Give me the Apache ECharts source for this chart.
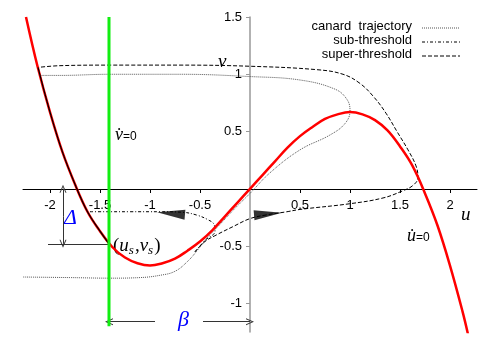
<!DOCTYPE html>
<html>
<head>
<meta charset="utf-8">
<script src="https://cdn.jsdelivr.net/npm/echarts@6/dist/echarts.min.js"></script>
<style>
  html, body { margin: 0; padding: 0; background: #fff; }
  #chart { width: 500px; height: 350px; }
</style>
</head>
<body>
<div id="chart"></div>
<script>
var myChart = echarts.init(document.getElementById('chart'), null, { renderer: 'canvas' });

// tick labels
var xTicks = [-2, -1.5, -1, -0.5, 0.5, 1, 1.5, 2];
var yTicks = [-1, -0.5, 0.5, 1, 1.5];

// u-nullcline (red)
var nullU = [-2.24, -2.125, -2, -1.875, -1.75, -1.625, -1.5, -1.375, -1.25, -1.125, -1, -0.875, -0.75, -0.625,
  -0.5, -0.375, -0.25, -0.125, 0, 0.125, 0.25, 0.375, 0.5, 0.625, 0.75, 0.875, 1, 1.125, 1.25, 1.375, 1.5,
  1.625, 1.75, 1.875, 2, 2.125, 2.18];
var nullV = [1.5, 1.07, 0.67, 0.32, 0.04, -0.2, -0.37, -0.51, -0.6, -0.65, -0.67, -0.65, -0.61, -0.54,
  -0.46, -0.36, -0.24, -0.12, 0, 0.12, 0.24, 0.36, 0.46, 0.54, 0.61, 0.65, 0.67, 0.65, 0.6, 0.51, 0.37,
  0.2, -0.04, -0.32, -0.67, -1.07, -1.27];

// v-nullcline (green) u = const
var vNullU = -1.41;
var vNullV = [1.5, -1.2];

// rest point (us, vs)
var restPoint = [-1.41, -0.48];

// trajectories [u, v]
var canard = [[-2.27, -0.77], [-1.8, -0.775], [-1.4, -0.78], [-1.1, -0.775], [-0.9, -0.755], [-0.75, -0.72],
  [-0.62, -0.63], [-0.52, -0.53], [-0.42, -0.42], [-0.3, -0.31], [-0.15, -0.17], [0, -0.04], [0.2, 0.14],
  [0.5, 0.34], [0.8, 0.47], [0.95, 0.57], [1.0, 0.68], [0.97, 0.78], [0.85, 0.87], [0.5, 0.95], [0, 0.98],
  [-0.7, 1.0], [-1.4, 1.0], [-1.9, 0.99], [-2.1, 0.99]];
var subThr = [[-0.55, -0.55], [-0.45, -0.45], [-0.35, -0.37], [-0.36, -0.31], [-0.42, -0.27], [-0.53, -0.23],
  [-0.67, -0.205], [-0.9, -0.2], [-1.2, -0.2], [-1.45, -0.2], [-1.62, -0.2]];
var superThr = [[-0.55, -0.55], [-0.45, -0.46], [-0.33, -0.4], [-0.17, -0.33], [0, -0.26], [0.15, -0.23],
  [0.37, -0.2], [0.5, -0.18], [1.0, -0.13], [1.33, -0.08], [1.52, -0.02], [1.63, 0.03], [1.68, 0.1],
  [1.66, 0.2], [1.58, 0.34], [1.47, 0.5], [1.36, 0.66], [1.24, 0.8], [1.1, 0.92], [0.93, 1.0], [0.67, 1.04],
  [0, 1.07], [-0.7, 1.08], [-1.4, 1.08], [-1.9, 1.075], [-2.12, 1.06]];
// where the trajectories run together down the left branch
var merged = [[-2.12, 1.06], [-2.0, 0.67], [-1.875, 0.32], [-1.75, 0.04], [-1.625, -0.2], [-1.5, -0.37], [-1.41, -0.48]];

// arrow heads on the trajectories
var subArrow = [-0.79, -0.215];
var superArrow = [0.18, -0.22];

var redData = nullU.map(function (u, i) { return [u, nullV[i]]; });
var greenData = vNullV.map(function (v) { return [vNullU, v]; });

var headPath = 'path://M0,10 L5,0 L10,10 L8.6,10 L5,2.8 L1.4,10 Z';
var serif = 'Liberation Serif';
var sans = 'Liberation Sans';

var option = {
    backgroundColor: '#fff',
    animation: false,
    grid: { left: 23, right: 23, top: 17, bottom: 18, containLabel: false, outerBoundsMode: 'none' },
    xAxis: {
        type: 'value',
        position: 'bottom',
        offset: -143,
        min: -2.27,
        max: 2.27,
        splitLine: { show: false },
        axisLine: { onZero: false, lineStyle: { color: '#000', width: 1 } },
        axisTick: { customValues: xTicks, length: 4, lineStyle: { color: '#000' } },
        axisLabel: { customValues: xTicks, color: '#000', fontSize: 13, fontFamily: sans, margin: 10 }
    },
    yAxis: {
        type: 'value',
        position: 'left',
        offset: -227,
        min: -1.25,
        max: 1.5,
        splitLine: { show: false },
        axisLine: { onZero: false, lineStyle: { color: '#999', width: 1.5 } },
        axisTick: { customValues: yTicks, length: 4, lineStyle: { color: '#999' } },
        axisLabel: { customValues: yTicks, color: '#000', fontSize: 13, fontFamily: sans, margin: 8 }
    },
    series: [
        {
            name: 'canard trajectory',
            type: 'line',
            data: canard,
            smooth: 0.4,
            symbol: 'none',
            lineStyle: { color: '#555', width: 1, type: [1, 1] },
            z: 2
        },
        {
            name: 'sub-threshold',
            type: 'line',
            data: subThr,
            smooth: 0.4,
            symbol: 'none',
            lineStyle: { color: '#000', width: 1, type: [3, 2, 1, 2] },
            z: 2
        },
        {
            name: 'super-threshold',
            type: 'line',
            data: superThr,
            smooth: 0.4,
            symbol: 'none',
            lineStyle: { color: '#000', width: 1, type: [4, 2] },
            z: 2
        },
        {
            name: 'u nullcline',
            type: 'line',
            data: redData,
            smooth: 0.4,
            symbol: 'none',
            lineStyle: { color: '#ff0000', width: 2.5 },
            z: 3
        },
        {
            name: 'merged',
            type: 'line',
            data: merged,
            smooth: 0.4,
            symbol: 'none',
            lineStyle: { color: '#000', width: 1.2 },
            z: 4
        },
        {
            name: 'v nullcline',
            type: 'line',
            data: greenData,
            symbol: 'none',
            lineStyle: { color: '#11ee11', width: 3 },
            z: 5,
            markLine: {
                silent: true,
                symbol: ['none', headPath],
                symbolSize: [7, 8],
                label: { show: false },
                lineStyle: { color: '#333', width: 1, type: 'solid' },
                data: [
                    // beta arrows
                    [{ coord: [-0.95, -1.16] }, { coord: [restPoint[0], -1.16] }],
                    [{ coord: [-0.47, -1.16] }, { coord: [0, -1.16] }],
                    // delta arrows
                    [{ coord: [-1.87, -0.24] }, { coord: [-1.87, 0] }],
                    [{ coord: [-1.87, -0.24] }, { coord: [-1.87, restPoint[1]] }],
                    // level of vs
                    [{ coord: [-2.02, restPoint[1]], symbol: 'none' }, { coord: restPoint, symbol: 'none' }]
                ]
            }
        },
        {
            name: 'arrows',
            type: 'scatter',
            symbol: 'triangle',
            symbolSize: [10, 28],
            itemStyle: { color: '#000' },
            data: [
                { value: subArrow, symbolRotate: 85 },
                { value: superArrow, symbolRotate: -85 }
            ],
            z: 6
        }
    ],
    graphic: [
        // legend
        { type: 'text', right: 88, top: 20, style: { text: 'canard  trajectory', font: '13px ' + sans, fill: '#000', textAlign: 'right' } },
        { type: 'text', right: 88, top: 34, style: { text: 'sub-threshold', font: '13px ' + sans, fill: '#000', textAlign: 'right' } },
        { type: 'text', right: 88, top: 48, style: { text: 'super-threshold', font: '13px ' + sans, fill: '#000', textAlign: 'right' } },
        { type: 'line', shape: { x1: 422, y1: 28, x2: 460, y2: 28 }, style: { stroke: '#555', lineWidth: 1, lineDash: [1, 1] } },
        { type: 'line', shape: { x1: 422, y1: 42, x2: 460, y2: 42 }, style: { stroke: '#000', lineWidth: 1, lineDash: [3, 2, 1, 2] } },
        { type: 'line', shape: { x1: 422, y1: 56, x2: 460, y2: 56 }, style: { stroke: '#000', lineWidth: 1, lineDash: [4, 2] } },
        // axis names
        { type: 'text', x: 461, y: 205, style: { text: 'u', font: 'italic 19px ' + serif, fill: '#000' } },
        { type: 'text', x: 218, y: 52, style: { text: 'v', font: 'italic 19px ' + serif, fill: '#000' } },
        // nullcline labels
        {
            type: 'text', x: 115, y: 126,
            style: {
                text: '{a|v\u0307}{b|=0}',
                rich: {
                    a: { fontFamily: serif, fontStyle: 'italic', fontSize: 18, fill: '#000' },
                    b: { fontFamily: sans, fontSize: 12, fill: '#000', padding: [4, 0, 0, 0] }
                }
            }
        },
        {
            type: 'text', x: 407, y: 227,
            style: {
                text: '{a|u\u0307}{b|=0}',
                rich: {
                    a: { fontFamily: serif, fontStyle: 'italic', fontSize: 18, fill: '#000' },
                    b: { fontFamily: sans, fontSize: 12, fill: '#000', padding: [4, 0, 0, 0] }
                }
            }
        },
        // rest point label
        {
            type: 'text', x: 113, y: 235,
            style: {
                text: '{p|(}{i|u}{s|s}{p|,}{i|v}{s|s}{p|)}',
                rich: {
                    p: { fontFamily: serif, fontSize: 19, fill: '#000' },
                    i: { fontFamily: serif, fontStyle: 'italic', fontSize: 19, fill: '#000' },
                    s: { fontFamily: serif, fontStyle: 'italic', fontSize: 13, fill: '#000', padding: [9, 1, 0, 0] }
                }
            }
        },
        // delta and beta
        { type: 'text', x: 64, y: 207, style: { text: '\u0394', font: 'italic 22px ' + serif, fill: '#0000ff' } },
        { type: 'text', x: 178, y: 309, style: { text: '\u03b2', font: 'italic 22px ' + serif, fill: '#0000ff' } }
    ]
};
myChart.setOption(option);
</script>
</body>
</html>
